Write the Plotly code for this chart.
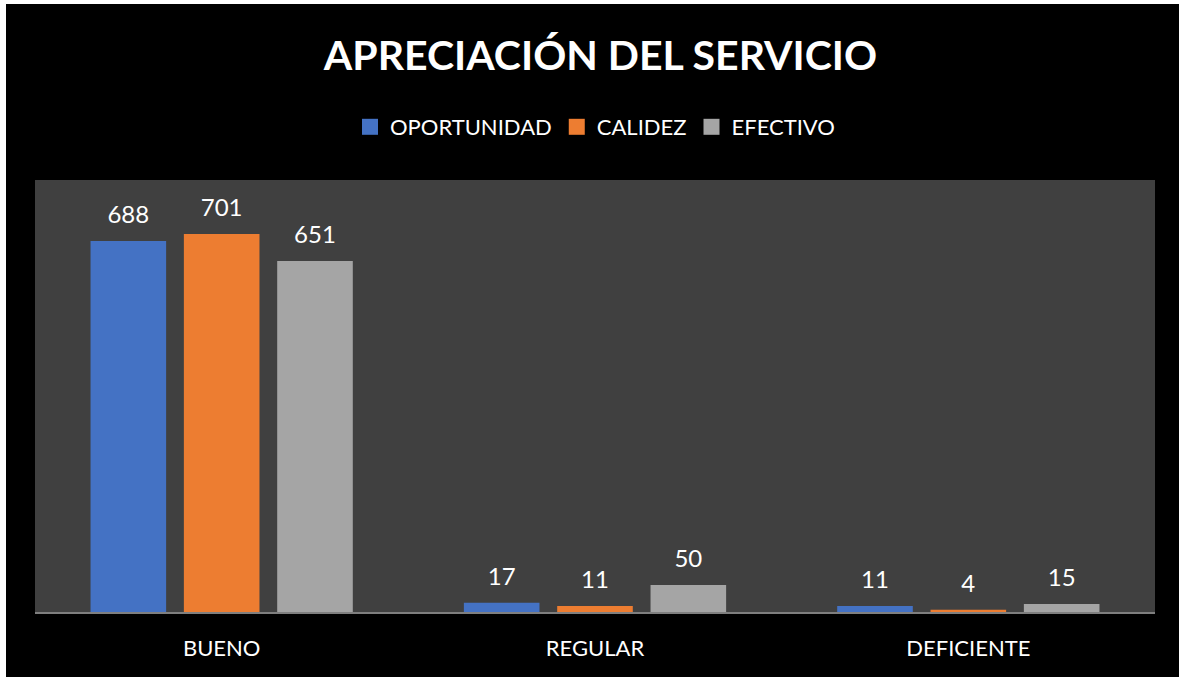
import plotly.graph_objects as go

categories = ["BUENO", "REGULAR", "DEFICIENTE"]
series_names = ["OPORTUNIDAD", "CALIDEZ", "EFECTIVO"]
oportunidad = [688, 17, 11]
calidez = [701, 11, 4]
efectivo = [651, 50, 15]
title_text = "APRECIACIÓN DEL SERVICIO"

values = [oportunidad, calidez, efectivo]
colors = ["#4472C4", "#ED7D31", "#A5A5A5"]
FONT = "Lato"

fig = go.Figure()
for i, (name, vals) in enumerate(zip(series_names, values)):
    fig.add_trace(go.Bar(
        name=name, x=categories, y=vals,
        marker=dict(color=colors[i], line=dict(width=0)),
        offsetgroup=f"b{i}", showlegend=False,
        hoverinfo="skip",
    ))
for i, (name, vals) in enumerate(zip(series_names, values)):
    fig.add_trace(go.Scatter(
        x=categories, y=vals, mode="markers+text",
        text=[str(v) for v in vals], textposition="top center",
        textfont=dict(family=FONT, size=24, color="white"),
        marker=dict(size=18, opacity=0),
        offsetgroup=f"s{i}", alignmentgroup="s",
        showlegend=False, hoverinfo="skip", cliponaxis=False,
    ))
# legend entries (square swatches)
for i, name in enumerate(series_names):
    fig.add_trace(go.Scatter(
        name=name, x=[None], y=[None], mode="markers",
        marker=dict(symbol="square", size=16, color=colors[i]),
        offsetgroup=f"s{i}", alignmentgroup="s",
        showlegend=True, hoverinfo="skip",
    ))

W, H = 1179, 677
L, R, T, B = 35, 24, 180, 65
pw, ph = W - L - R, H - T - B

def px_x(p):
    return (p - L) / pw

def px_y(p):
    return (H - B - p) / ph

fig.update_layout(
    width=W, height=H,
    margin=dict(l=L, r=R, t=T, b=B),
    paper_bgcolor="black", plot_bgcolor="#404040",
    barmode="group", bargap=0.25, bargroupgap=0.19,
    scattermode="group", scattergap=0.25,
    title=dict(text=f"<b>{title_text}</b>", x=600.5 / W, xanchor="center",
               y=1 - 56 / H, yanchor="middle",
               font=dict(family=FONT, size=41, color="white")),
    legend=dict(orientation="h", x=0.5, xanchor="center", y=px_y(127), yanchor="middle",
                font=dict(family=FONT, size=22, color="white"),
                bgcolor="rgba(0,0,0,0)", itemclick=False, itemdoubleclick=False),
    xaxis=dict(showgrid=False, ticks="", showline=True, linecolor="#7F7F7F", linewidth=2,
               tickfont=dict(family=FONT, size=22, color="white"), ticklabelstandoff=16,
               zeroline=False, fixedrange=True),
    yaxis=dict(range=[0, 801], visible=False, showgrid=False, zeroline=False, fixedrange=True),
    showlegend=True,
    hovermode=False,
)

# thin white border strips on top and left edges
fig.add_shape(type="rect", xref="paper", yref="paper", layer="above",
              x0=px_x(-5), x1=px_x(6), y0=px_y(H + 5), y1=px_y(-5),
              fillcolor="white", line=dict(width=0))
fig.add_shape(type="rect", xref="paper", yref="paper", layer="above",
              x0=px_x(-5), x1=px_x(W + 5), y0=px_y(4), y1=px_y(-5),
              fillcolor="white", line=dict(width=0))

fig.write_html("out.html", config={"displayModeBar": False},
               post_script="document.body.style.margin='0';")
